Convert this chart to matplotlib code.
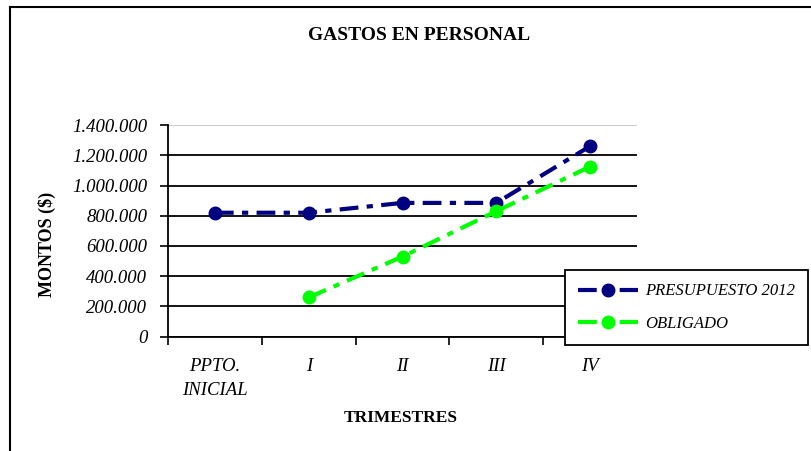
import numpy as np
import matplotlib.pyplot as plt
from matplotlib.ticker import FixedLocator
from matplotlib.lines import Line2D

# Categories and series
trimestres = ['PPTO.\nINICIAL', 'I', 'II', 'III', 'IV']
presupuesto = [820000, 820000, 885000, 885000, 1260000]
obligado = [None, 260000, 530000, 830000, 1125000]
y_ticks = [0, 200000, 400000, 600000, 800000, 1000000, 1200000, 1400000]

plt.rcParams['font.family'] = ['Liberation Serif', 'DejaVu Serif']

fig = plt.figure(figsize=(8.12, 4.51), dpi=100)
ax = fig.add_axes([0.2069, 0.2534, 0.5776, 0.4694])

x = np.arange(len(trimestres))
dash = (0, (4.5, 2, 1.5, 2))
ax.plot(x, presupuesto, color='#000080', lw=3, linestyle=dash,
        marker='o', markersize=9, label='PRESUPUESTO 2012', zorder=3)
obl = np.array([np.nan if v is None else v for v in obligado], dtype=float)
ax.plot(x, obl, color='#00ff00', lw=3, linestyle=dash,
        marker='o', markersize=9, label='OBLIGADO', zorder=3)

ax.set_xlim(-0.5, len(trimestres) - 0.5)
ax.set_ylim(0, 1400000)
ax.set_yticks(y_ticks)
ax.set_yticklabels([f"{v:,.0f}".replace(',', '.') for v in y_ticks], fontsize=13.5)
ax.tick_params(axis='y', direction='out', length=6, width=1.2, pad=9)

# x ticks at bin edges, labels at centers
ax.xaxis.set_major_locator(FixedLocator(np.arange(-0.5, len(trimestres), 1.0)))
ax.xaxis.set_minor_locator(FixedLocator(x))
ax.set_xticklabels([], minor=False)
ax.set_xticklabels(trimestres, minor=True, fontsize=13.5, linespacing=1.6)
ax.tick_params(axis='x', which='major', direction='out', length=6, width=1.2)
ax.tick_params(axis='x', which='minor', length=0, pad=15)

ax.grid(axis='y', color='black', lw=1.3)
ax.set_axisbelow(True)
ax.yaxis.get_gridlines()[-1].set_color('#c8c8c8')
ax.spines['top'].set_visible(False)
ax.spines['right'].set_visible(False)
ax.spines['left'].set_linewidth(1.3)
ax.spines['bottom'].set_linewidth(1.3)

fig.text(0.516, 0.922, 'GASTOS EN PERSONAL', ha='center', va='center',
         fontsize=14, fontweight='bold')
fig.text(0.493, 0.073, 'TRIMESTRES', ha='center', va='center',
         fontsize=12.5, fontweight='bold')
fig.text(0.058, 0.457, 'MONTOS ($)', ha='center', va='center', rotation=90,
         fontsize=13, fontweight='bold')

leg = ax.legend(loc='upper left', bbox_to_anchor=(565 / 812, 1 - 270 / 451),
                bbox_transform=fig.transFigure, borderaxespad=0,
                frameon=True, fancybox=False, framealpha=1,
                edgecolor='black', borderpad=0.8, labelspacing=1.0,
                handlelength=3.6, handletextpad=0.4, numpoints=1,
                prop={'style': 'italic', 'size': 12})
leg.get_frame().set_linewidth(1.3)
leg.set_zorder(5)

# outer chart frame (top and left edges visible)
fig.add_artist(Line2D([10 / 812, 1], [1 - 7 / 451, 1 - 7 / 451],
                      transform=fig.transFigure, color='black', lw=1.5))
fig.add_artist(Line2D([10 / 812, 10 / 812], [0, 1 - 7 / 451],
                      transform=fig.transFigure, color='black', lw=1.5))

# make the tick labels italic once all ticks exist
fig.canvas.draw()
for lbl in ax.get_yticklabels() + ax.get_xticklabels(minor=True):
    lbl.set_fontstyle('italic')

fig.savefig('out.png', dpi=100)
